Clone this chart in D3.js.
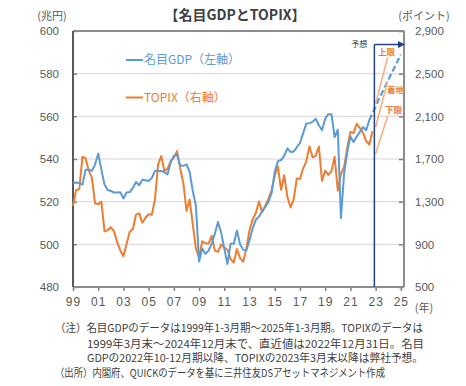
<!DOCTYPE html>
<html lang="ja">
<head>
<meta charset="utf-8">
<script src="https://cdn.jsdelivr.net/npm/d3@7"></script>
<style>
  body { margin: 0; background: #fff; }
  svg { display: block; font-family: "Noto Sans CJK JP", "Noto Sans", sans-serif; }
</style>
</head>
<body>
<svg id="chart" width="466" height="386"></svg>
<script>
// quarterly data, first point = 1999 Q1
const startYear = 1999;

// nominal GDP (trillion yen), 1999Q1 - 2022Q3
const gdpActual = [
  528.9, 529.0, 528.8, 528.0,
  535.0, 535.0, 534.4, 537.5,
  542.5, 535.0, 528.0, 525.5,
  525.0, 524.3, 524.3, 524.4,
  521.5, 524.3, 524.5, 526.5,
  529.2, 527.7, 530.3, 530.0,
  529.7, 531.1, 534.4, 534.5,
  534.4, 533.8, 532.8, 538.5,
  541.5, 542.0, 537.0, 536.8,
  537.5, 534.0, 525.0, 518.0,
  492.0, 498.0, 495.6, 497.0,
  500.5, 505.0, 510.5, 505.5,
  498.0, 490.8, 500.3, 500.3,
  506.5, 500.0, 497.4, 497.2,
  502.0, 507.5, 511.5, 513.0,
  515.5, 517.5, 520.0, 524.0,
  534.0, 539.0, 539.5, 541.5,
  545.0, 543.3, 543.5, 545.5,
  547.5, 552.0, 556.6, 556.8,
  557.4, 558.9, 555.8, 553.5,
  558.9, 561.0, 561.0, 550.3,
  553.8, 512.3, 533.2, 543.3,
  550.5, 548.0, 550.5, 552.7,
  555.0, 553.5, 558.2
];
// forecast, 2022Q3 - 2025Q1
const gdpForecast = [558.2, 561.5, 564.5, 568.0, 571.0, 574.0, 577.0, 580.0, 583.0, 586.0, 589.0];

// TOPIX quarter-end (points), 1999/3 - 2022/12
const topix = [
  1262, 1410, 1416, 1722,
  1705, 1591, 1526, 1283,
  1277, 1300, 1023, 1032,
  1060, 1024, 921, 843,
  788, 903, 1018, 1043,
  1179, 1190, 1102, 1149,
  1182, 1177, 1320, 1650,
  1728, 1586, 1610, 1681,
  1713, 1774, 1616, 1475,
  1213, 1320, 1087, 860,
  774, 929, 909, 908,
  979, 841, 829, 899,
  869, 849, 761, 729,
  855, 770, 737, 860,
  1035, 1133, 1194, 1302,
  1203, 1262, 1326, 1407,
  1543, 1630, 1411, 1547,
  1347, 1245, 1322, 1518,
  1512, 1611, 1675, 1817,
  1716, 1730, 1817, 1494,
  1591, 1551, 1587, 1721,
  1403, 1558, 1625, 1805,
  1954, 1943, 2030, 1992,
  1946, 1871, 1835, 1960
];

// TOPIX forecast range
const topixForecastYears = [2023.0, 2023.95];
const topixUpper = [2220, 2650];
const topixMid = [2000, 2430];
const topixLower = [1750, 2100];
const rangeLabels = ["上限", "着地", "下限"];

const forecastStart = 2022.9;
const xTickYears = [1999, 2001, 2003, 2005, 2007, 2009, 2011, 2013, 2015, 2017, 2019, 2021, 2023, 2025];
const gdpTicks = [480, 500, 520, 540, 560, 580, 600];
const topixTicks = [500, 900, 1300, 1700, 2100, 2500, 2900];

const notes = [
  "（注）名目GDPのデータは1999年1-3月期～2025年1-3月期。TOPIXのデータは",
  "1999年3月末～2024年12月末で、直近値は2022年12月31日。名目",
  "GDPの2022年10-12月期以降、TOPIXの2023年3月末以降は弊社予想。",
  "（出所）内閣府、QUICKのデータを基に三井住友DSアセットマネジメント作成"
];

const blue = "#5b9bd5";
const orange = "#ed7d31";
const lightOrange = "#f4b183";
const navy = "#203f8c";

const svg = d3.select("#chart");
const margin = { top: 31, right: 62, bottom: 99, left: 73 };
const width = 466 - margin.left - margin.right;
const height = 386 - margin.top - margin.bottom;

const g = svg.append("g").attr("transform", `translate(${margin.left},${margin.top})`);

const x = d3.scaleLinear().domain([1999, 2025.25]).range([0, width]);
const yL = d3.scaleLinear().domain([480, 600]).range([height, 0]);
const yR = d3.scaleLinear().domain([500, 2900]).range([height, 0]);

// gridlines
g.selectAll(".grid")
  .data(gdpTicks.slice(1, -1))
  .enter()
  .append("line")
  .attr("x1", 0)
  .attr("x2", width)
  .attr("y1", (d) => yL(d))
  .attr("y2", (d) => yL(d))
  .attr("stroke", "#ddd3dc")
  .attr("stroke-width", 1);

// axes
const left = g.append("g")
  .call(d3.axisLeft(yL).tickValues(gdpTicks).tickSize(-4).tickPadding(14));
const right = g.append("g")
  .attr("transform", `translate(${width},0)`)
  .call(d3.axisRight(yR).tickValues(topixTicks).tickSize(-5).tickPadding(11).tickFormat(d3.format(",")));
const bottom = g.append("g")
  .attr("transform", `translate(0,${height})`)
  .call(d3.axisBottom(x).tickValues(xTickYears).tickSize(4).tickPadding(6)
    .tickFormat((d) => String(d).slice(2)));

[left, right, bottom].forEach((ax) => {
  ax.select(".domain").remove();
  ax.selectAll(".tick line").attr("stroke", "#7f7f7f").attr("stroke-width", 1.5);
  ax.selectAll("text").attr("fill", "#595959").style("font-size", "11.5px");
});
bottom.selectAll("text").style("font-size", "12px").style("letter-spacing", "1px");

// frame
g.append("line").attr("x1", 0).attr("x2", width).attr("y1", 0).attr("y2", 0)
  .attr("stroke", "#8c8c8c").attr("stroke-width", 2);
g.append("line").attr("x1", width).attr("x2", width).attr("y1", 0).attr("y2", height)
  .attr("stroke", "#8c8c8c").attr("stroke-width", 2);
g.append("line").attr("x1", 0).attr("x2", width).attr("y1", height).attr("y2", height)
  .attr("stroke", "#8c8c8c").attr("stroke-width", 2);
g.append("line").attr("x1", 0).attr("x2", 0).attr("y1", 0).attr("y2", height)
  .attr("stroke", "#595959").attr("stroke-width", 2);

// series lines
const gdpLine = (offset) => d3.line()
  .x((d, i) => x(startYear + (i + offset) / 4))
  .y((d) => yL(d));

g.append("path")
  .datum(topix)
  .attr("fill", "none")
  .attr("stroke", orange)
  .attr("stroke-width", 2)
  .attr("stroke-linejoin", "round")
  .attr("d", d3.line().x((d, i) => x(startYear + i / 4)).y((d) => yR(d)));

g.append("path")
  .datum(gdpActual)
  .attr("fill", "none")
  .attr("stroke", blue)
  .attr("stroke-width", 2)
  .attr("stroke-linejoin", "round")
  .attr("d", gdpLine(0));

g.append("path")
  .datum(gdpForecast)
  .attr("fill", "none")
  .attr("stroke", blue)
  .attr("stroke-width", 2.2)
  .attr("stroke-dasharray", "6,3")
  .attr("d", gdpLine(gdpActual.length - 1));

// TOPIX forecast range
const ranges = [topixUpper, topixMid, topixLower];
const rangeLine = d3.line()
  .x((d, i) => x(topixForecastYears[i]))
  .y((d) => yR(d));
ranges.forEach((r) => {
  g.append("path")
    .datum(r)
    .attr("fill", "none")
    .attr("stroke", lightOrange)
    .attr("stroke-width", 1.6)
    .attr("d", rangeLine);
});

// labels next to the line ends
const labelOffsets = [[-1, -3], [8, 12], [6, -3]];
rangeLabels.forEach((t, i) => {
  const end = ranges[i][ranges[i].length - 1];
  g.append("text")
    .attr("x", x(topixForecastYears[1]) + labelOffsets[i][0])
    .attr("y", yR(end) + labelOffsets[i][1])
    .attr("text-anchor", "middle")
    .attr("fill", orange)
    .style("font-size", "8.5px")
    .style("font-weight", "bold")
    .text(t);
});

// forecast marker
const fx = x(forecastStart);
g.append("line")
  .attr("x1", fx).attr("x2", fx)
  .attr("y1", 13.5).attr("y2", height)
  .attr("stroke", navy).attr("stroke-width", 1.5);
g.append("line")
  .attr("x1", fx).attr("x2", width - 4)
  .attr("y1", 13.5).attr("y2", 13.5)
  .attr("stroke", navy).attr("stroke-width", 1.5);
g.append("path")
  .attr("d", `M${width - 6},10 L${width + 1},13.5 L${width - 6},17 Z`)
  .attr("fill", navy);
g.append("text")
  .attr("x", fx - 7)
  .attr("y", 15.5)
  .attr("text-anchor", "end")
  .attr("fill", "#333")
  .style("font-size", "8px")
  .text("予想");

// legend
const legend = [
  { label: "名目GDP（左軸）", color: blue, y: 29 },
  { label: "TOPIX（右軸）", color: orange, y: 66.5 }
];
legend.forEach((l) => {
  g.append("line")
    .attr("x1", 53).attr("x2", 70)
    .attr("y1", l.y).attr("y2", l.y)
    .attr("stroke", l.color).attr("stroke-width", 2);
  g.append("text")
    .attr("x", 71)
    .attr("y", l.y + 4.3)
    .attr("fill", l.color)
    .style("font-size", "12px")
    .text(l.label);
});

// title and axis units
svg.append("text")
  .attr("x", 235)
  .attr("y", 20)
  .attr("text-anchor", "middle")
  .attr("fill", "#404040")
  .style("font-size", "14px")
  .style("font-weight", "bold")
  .text("【名目GDPとTOPIX】");

svg.append("text").attr("x", 52).attr("y", 20).attr("text-anchor", "middle")
  .attr("fill", "#595959").style("font-size", "11px").text("(兆円)");
svg.append("text").attr("x", 424).attr("y", 20).attr("text-anchor", "middle")
  .attr("fill", "#595959").style("font-size", "11px").text("(ポイント)");
svg.append("text").attr("x", 424).attr("y", 312).attr("text-anchor", "middle")
  .attr("fill", "#595959").style("font-size", "11px").text("(年)");

// footnotes
const noteX = [55, 87, 87, 55];
const noteY = [332, 347.5, 362, 377];
const noteW = [368, 337, 336, 330];
notes.forEach((t, i) => {
  svg.append("text")
    .attr("x", noteX[i])
    .attr("y", noteY[i])
    .attr("fill", "#404040")
    .attr("textLength", noteW[i])
    .attr("lengthAdjust", "spacingAndGlyphs")
    .style("font-size", "11px")
    .text(t);
});
</script>
</body>
</html>
